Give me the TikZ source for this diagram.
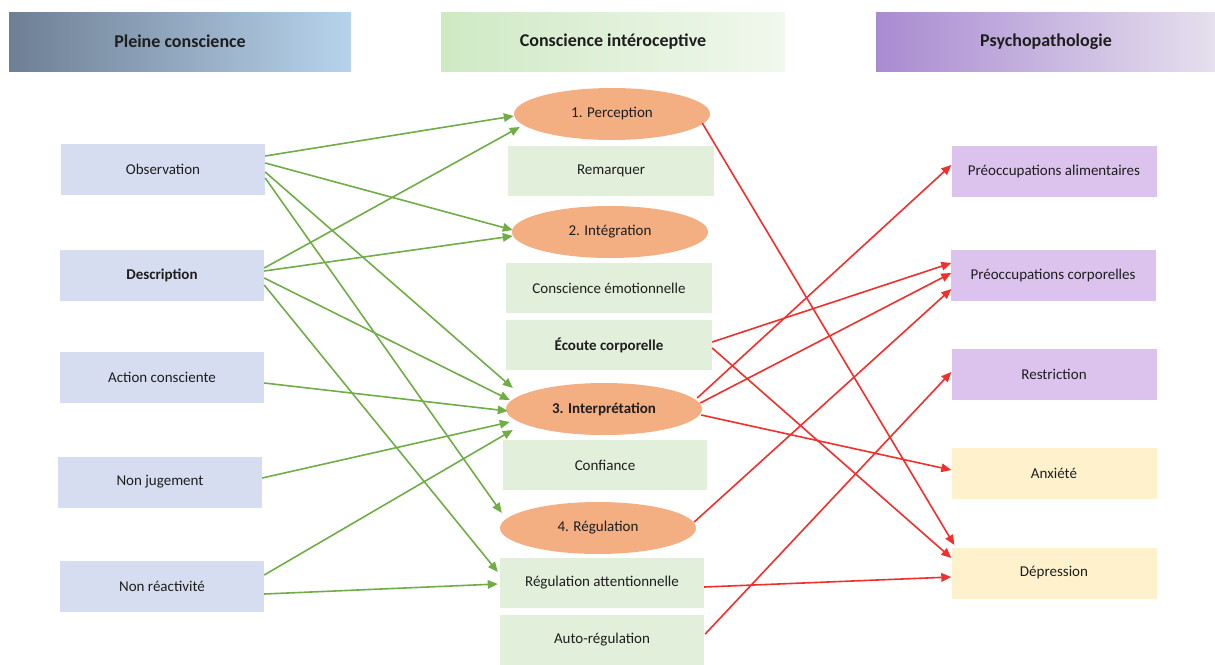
\documentclass[tikz,border=0pt]{standalone}
\usepackage{fontspec}
\setmainfont{Carlito}
\usetikzlibrary{shapes.geometric,arrows.meta}
\definecolor{txt}{HTML}{1E1E1E}
\definecolor{lbox}{HTML}{D7DDF1}
\definecolor{gbox}{HTML}{E2EFDA}
\definecolor{obox}{HTML}{F3AE82}
\definecolor{pbox}{HTML}{DBC3EE}
\definecolor{ybox}{HTML}{FEF1CC}
\definecolor{garrow}{HTML}{70AD47}
\definecolor{rarrow}{HTML}{F0302C}
\definecolor{hAl}{HTML}{6E7F94}
\definecolor{hAr}{HTML}{B7D3EC}
\definecolor{hBl}{HTML}{CFE9C4}
\definecolor{hBr}{HTML}{F1F8EE}
\definecolor{hCl}{HTML}{A98BD1}
\definecolor{hCr}{HTML}{E6E0EE}
\tikzset{
  header/.style={minimum width=#1, minimum height=59, inner sep=0, text=txt,
    font=\fontsize{18}{21}\selectfont\bfseries},
  box/.style={minimum width=#1, minimum height=51, inner sep=0, text=txt,
    font=\fontsize{15}{18}\selectfont},
  lnode/.style={box=204, fill=lbox},
  gnode/.style={box=#1, fill=gbox, minimum height=50},
  onode/.style={ellipse, fill=obox, minimum width=196, minimum height=52, inner sep=0,
    text=txt, font=\fontsize{15}{18}\selectfont},
  pnode/.style={box=205, fill=pbox},
  ynode/.style={box=205, fill=ybox},
  garr/.style={draw=garrow, line width=1.6pt, -{Triangle[length=10pt,width=8.5pt]}, fill=garrow},
  rarr/.style={draw=rarrow, line width=1.6pt, -{Triangle[length=10pt,width=8.5pt]}, fill=rarrow},
}
\begin{document}
\begin{tikzpicture}[x=1pt,y=-1pt]
\useasboundingbox (0,0) rectangle (1215,664);
% headers
\node[header=342, left color=hAl, right color=hAr] (hA) at (180,41.5) {Pleine conscience};
\node[header=344, left color=hBl, right color=hBr] (hB) at (613,41.5) {Conscience intéroceptive};
\node[header=340, left color=hCl, right color=hCr] (hC) at (1046,41.5) {Psychopathologie};
% left column
\node[lnode] (obs) at (163,169) {Observation};
\node[lnode, font=\fontsize{15}{18}\selectfont\bfseries] (desc) at (162,275) {Description};
\node[lnode] (act) at (162,377) {Action consciente};
\node[lnode] (nonj) at (160,482) {Non jugement};
\node[lnode] (nonr) at (162,586) {Non réactivité};
% middle column
\node[onode] (perc) at (612,114) {1. Perception};
\node[gnode=206] (rem) at (611,171) {Remarquer};
\node[onode] (integ) at (610,232) {2. Intégration};
\node[gnode=206] (emo) at (609,288) {Conscience émotionnelle};
\node[gnode=206, font=\fontsize{15}{18}\selectfont\bfseries] (ecoute) at (609,345) {Écoute corporelle};
\node[onode, font=\fontsize{15}{18}\selectfont\bfseries] (interp) at (604,409) {3. Interprétation};
\node[gnode=204] (conf) at (605,465) {Confiance};
\node[onode] (reg) at (598,528) {4. Régulation};
\node[gnode=204] (regatt) at (602,583) {Régulation attentionnelle};
\node[gnode=204] (auto) at (602,640) {Auto-régulation};
% right column
\node[pnode] (pa) at (1054,171) {Préoccupations alimentaires};
\node[pnode] (pc) at (1053,275) {Préoccupations corporelles};
\node[pnode] (restr) at (1054,374) {Restriction};
\node[ynode] (anx) at (1054,473) {Anxiété};
\node[ynode] (dep) at (1054,573) {Dépression};
% green arrows
\draw[garr] ([yshift=13pt]obs.east) -- ([yshift=-2pt]perc.west);
\draw[garr] ([yshift=6pt]obs.east) -- ([xshift=1pt,yshift=2pt]integ.west);
\draw[garr] ([yshift=-3pt]obs.east) -- ([xshift=7pt,yshift=21pt]interp.west);
\draw[garr] ([yshift=-9pt]obs.east) -- ([xshift=2pt,yshift=15pt]reg.west);
\draw[garr] ([yshift=7pt]desc.east) -- ([xshift=6pt,yshift=-13pt]perc.west);
\draw[garr] ([yshift=4pt]desc.east) -- ([xshift=1pt,yshift=-4pt]integ.west);
\draw[garr] ([yshift=-3pt]desc.east) -- ([xshift=4pt,yshift=9pt]interp.west);
\draw[garr] ([yshift=-10pt]desc.east) -- ([xshift=-2pt,yshift=11pt]regatt.west);
\draw[garr] ([yshift=-6pt]act.east) -- ([xshift=2pt,yshift=-2pt]interp.west);
\draw[garr] ([yshift=4pt]nonj.east) -- ([xshift=4pt,yshift=-13pt]interp.west);
\draw[garr] ([yshift=11pt]nonr.east) -- ([xshift=7pt,yshift=-21pt]interp.west);
\draw[garr] ([yshift=-8pt]nonr.east) -- ([xshift=-2pt,yshift=-1pt]regatt.west);
% red arrows
\draw[rarr] ([xshift=-8pt,yshift=-9pt]perc.east) -- ([xshift=3pt,yshift=28pt]dep.west);
\draw[rarr] ([yshift=3pt]ecoute.east) -- ([xshift=1pt,yshift=12pt]pc.west);
\draw[rarr] ([yshift=-3pt]ecoute.east) -- ([yshift=15pt]dep.west);
\draw[rarr] ([xshift=-5pt,yshift=11pt]interp.east) -- ([yshift=6pt]pa.west);
\draw[rarr] ([xshift=-2pt,yshift=6pt]interp.east) -- ([xshift=1pt,yshift=2pt]pc.west);
\draw[rarr] ([xshift=-1pt,yshift=-6pt]interp.east) -- ([yshift=3pt]anx.west);
\draw[rarr] ([xshift=-2pt,yshift=6pt]reg.east) -- ([xshift=1pt,yshift=-14pt]pc.west);
\draw[rarr] ([yshift=-4pt]regatt.east) -- ([yshift=-4pt]dep.west);
\draw[rarr] ([xshift=1pt,yshift=6pt]auto.east) -- ([yshift=2pt]restr.west);
\end{tikzpicture}
\end{document}
